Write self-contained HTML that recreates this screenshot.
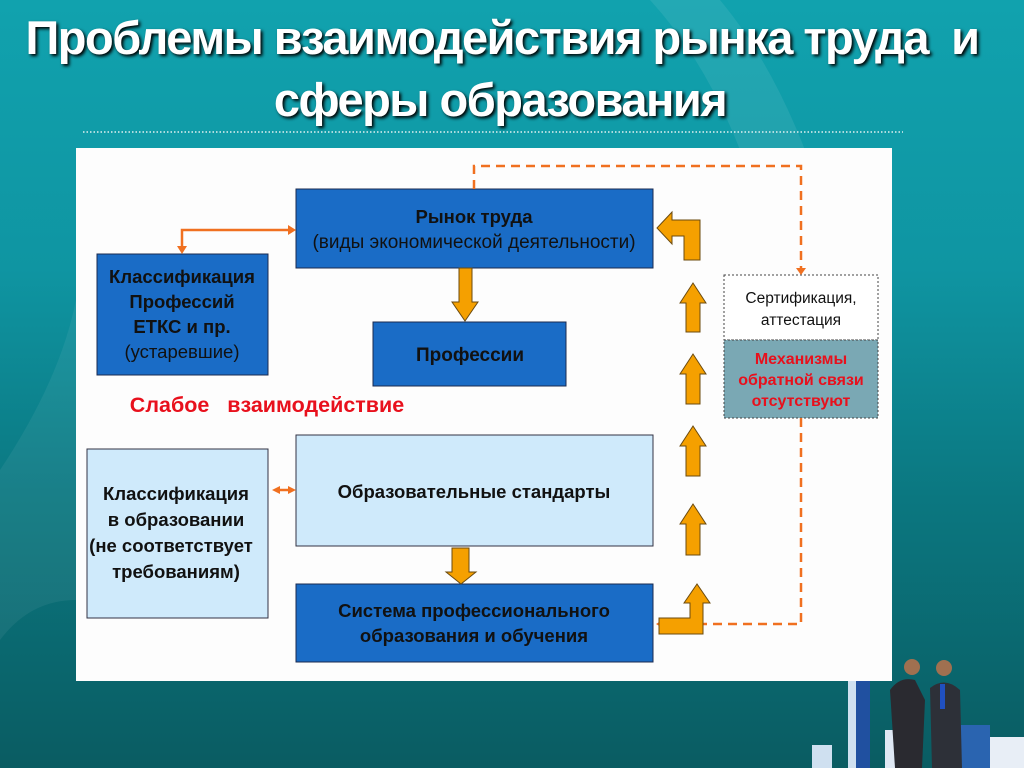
<!DOCTYPE html>
<html><head><meta charset="utf-8"><style>
html,body{margin:0;padding:0;width:1024px;height:768px;overflow:hidden}
body{background:linear-gradient(180deg,#11a2ae 0%,#0f95a2 35%,#0b7780 65%,#0a5c62 100%);position:relative;font-family:"Liberation Sans",sans-serif}
.t{position:absolute;color:#fff;font-weight:bold;font-size:47px;line-height:56px;text-shadow:2px 2px 3px #000;letter-spacing:-1.5px;white-space:nowrap}
svg text{font-family:"Liberation Sans",sans-serif}
</style></head><body>
<svg width="1024" height="768" style="position:absolute;left:0;top:0">
<path d="M650,0 Q760,120 790,360 L860,360 Q820,120 720,0Z" fill="#ffffff" opacity="0.08"/>
<path d="M0,470 Q60,380 76,300 L76,600 Q30,600 0,640Z" fill="#ffffff" opacity="0.06"/>
<line x1="83" y1="132" x2="903" y2="132" stroke="#e0f0f0" stroke-width="1.5" stroke-dasharray="1.5,2"/>
<rect x="76" y="148" width="816" height="533" fill="#fdfdfd"/>
<g text-anchor="middle" font-size="18">
<rect x="296" y="189" width="357" height="79" fill="#1a6cc6" stroke="#1a2a50"/>
<text x="474" y="223" font-weight="bold" fill="#111" font-size="18.5">Рынок труда</text>
<text x="474" y="248" fill="#111" font-size="19">(виды экономической деятельности)</text>
<rect x="97" y="254" width="171" height="121" fill="#1a6cc6" stroke="#1a2a50"/>
<g font-size="18.5" font-weight="bold" fill="#111">
<text x="182" y="283">Классификация</text>
<text x="182" y="308">Профессий</text>
<text x="182" y="333">ЕТКС и пр.</text>
</g>
<text x="182" y="358" fill="#111" font-size="18.5">(устаревшие)</text>
<rect x="373" y="322" width="193" height="64" fill="#1a6cc6" stroke="#1a2a50"/>
<text x="470" y="361" font-weight="bold" fill="#111" font-size="19">Профессии</text>
<text x="267" y="412" font-weight="bold" fill="#e8101c" font-size="21.5">Слабое&#160;&#160; взаимодействие</text>
<rect x="87" y="449" width="181" height="169" fill="#cfeafb" stroke="#334"/>
<g font-size="18.5" font-weight="bold" fill="#111">
<text x="176" y="500">Классификация</text>
<text x="176" y="526">в образовании</text>
<text x="171" y="552">(не соответствует</text>
<text x="176" y="578">требованиям)</text>
</g>
<rect x="296" y="435" width="357" height="111" fill="#cfeafb" stroke="#334"/>
<text x="474" y="498" font-weight="bold" fill="#111" font-size="18.5">Образовательные стандарты</text>
<rect x="296" y="584" width="357" height="78" fill="#1a6cc6" stroke="#1a2a50"/>
<text x="474" y="617" font-weight="bold" fill="#111" font-size="18.5">Система профессионального</text>
<text x="474" y="642" font-weight="bold" fill="#111" font-size="18.5">образования и обучения</text>
<rect x="724" y="275" width="154" height="65" fill="#fff" stroke="#444" stroke-dasharray="2,2"/>
<text x="801" y="303" fill="#111" font-size="15.5">Сертификация,</text>
<text x="801" y="325" fill="#111" font-size="15.5">аттестация</text>
<rect x="724" y="340" width="154" height="78" fill="#7aa8b4" stroke="#444" stroke-dasharray="2,2"/>
<text x="801" y="364" font-weight="bold" fill="#e8101c" font-size="16">Механизмы</text>
<text x="801" y="385" font-weight="bold" fill="#e8101c" font-size="16">обратной связи</text>
<text x="801" y="406" font-weight="bold" fill="#e8101c" font-size="16">отсутствуют</text>
</g>
<g stroke="#f07020" stroke-width="2.5" fill="none">
<polyline points="182,248 182,230 290,230"/>
<line x1="278" y1="490" x2="290" y2="490"/>
<polyline points="474,189 474,166 801,166 801,268" stroke-dasharray="9,6"/>
<polyline points="801,418 801,624 664,624" stroke-dasharray="9,6"/>
</g>
<g fill="#f07020">
<path d="M177,246 L187,246 L182,254Z"/>
<path d="M288,225 L296,230 L288,235Z"/>
<path d="M280,486 L272,490 L280,494Z"/>
<path d="M288,486 L296,490 L288,494Z"/>
<path d="M796,268 L806,268 L801,275Z"/>
<path d="M664,619 L664,629 L656,624Z"/>
</g>
<g fill="#f5a000" stroke="#6a4a10" stroke-width="1">
<path d="M459,268 L472,268 L472,302 L478,302 L465,321 L452,302 L459,302Z"/>
<path d="M452,548 L469,548 L469,572 L476,572 L461,584 L446,572 L452,572Z"/>
<path d="M657,228 L672,212 L672,220 L700,220 L700,260 L684,260 L684,236 L672,236 L672,244Z"/>
<path d="M680,303 L693,283 L706,303 L700,303 L700,332 L686,332 L686,303Z"/>
<path d="M680,374 L693,354 L706,374 L700,374 L700,404 L686,404 L686,374Z"/>
<path d="M680,446 L693,426 L706,446 L700,446 L700,476 L686,476 L686,446Z"/>
<path d="M680,524 L693,504 L706,524 L700,524 L700,555 L686,555 L686,524Z"/>
<path d="M684,603 L697,584 L710,603 L703,603 L703,634 L659,634 L659,618 L690,618 L690,603Z"/>
</g>
<g>
<rect x="848" y="681" width="8" height="87" fill="#cfe0f0"/>
<rect x="856" y="681" width="14" height="87" fill="#2050a0"/>
<rect x="812" y="745" width="20" height="23" fill="#cfe0f0"/>
<rect x="885" y="730" width="20" height="38" fill="#dfe8f4"/>
<rect x="960" y="725" width="30" height="43" fill="#2a64b0"/>
<rect x="990" y="737" width="34" height="31" fill="#e8eef6"/>
<path d="M890,690 Q900,676 915,680 L925,700 L922,768 L895,768Z" fill="#2a2a30"/>
<circle cx="912" cy="667" r="8" fill="#a07050"/>
<path d="M930,688 Q945,676 960,690 L962,768 L932,768Z" fill="#2d3038"/>
<rect x="940" y="684" width="5" height="25" fill="#2050c0"/>
<circle cx="944" cy="668" r="8" fill="#a07050"/>
</g>
</svg>
<div class="t" style="top:10px;left:12px;width:980px;text-align:center">Проблемы взаимодействия рынка труда&nbsp; и</div>
<div class="t" style="top:72px;left:0;width:1000px;text-align:center">сферы образования</div>
</body></html>
